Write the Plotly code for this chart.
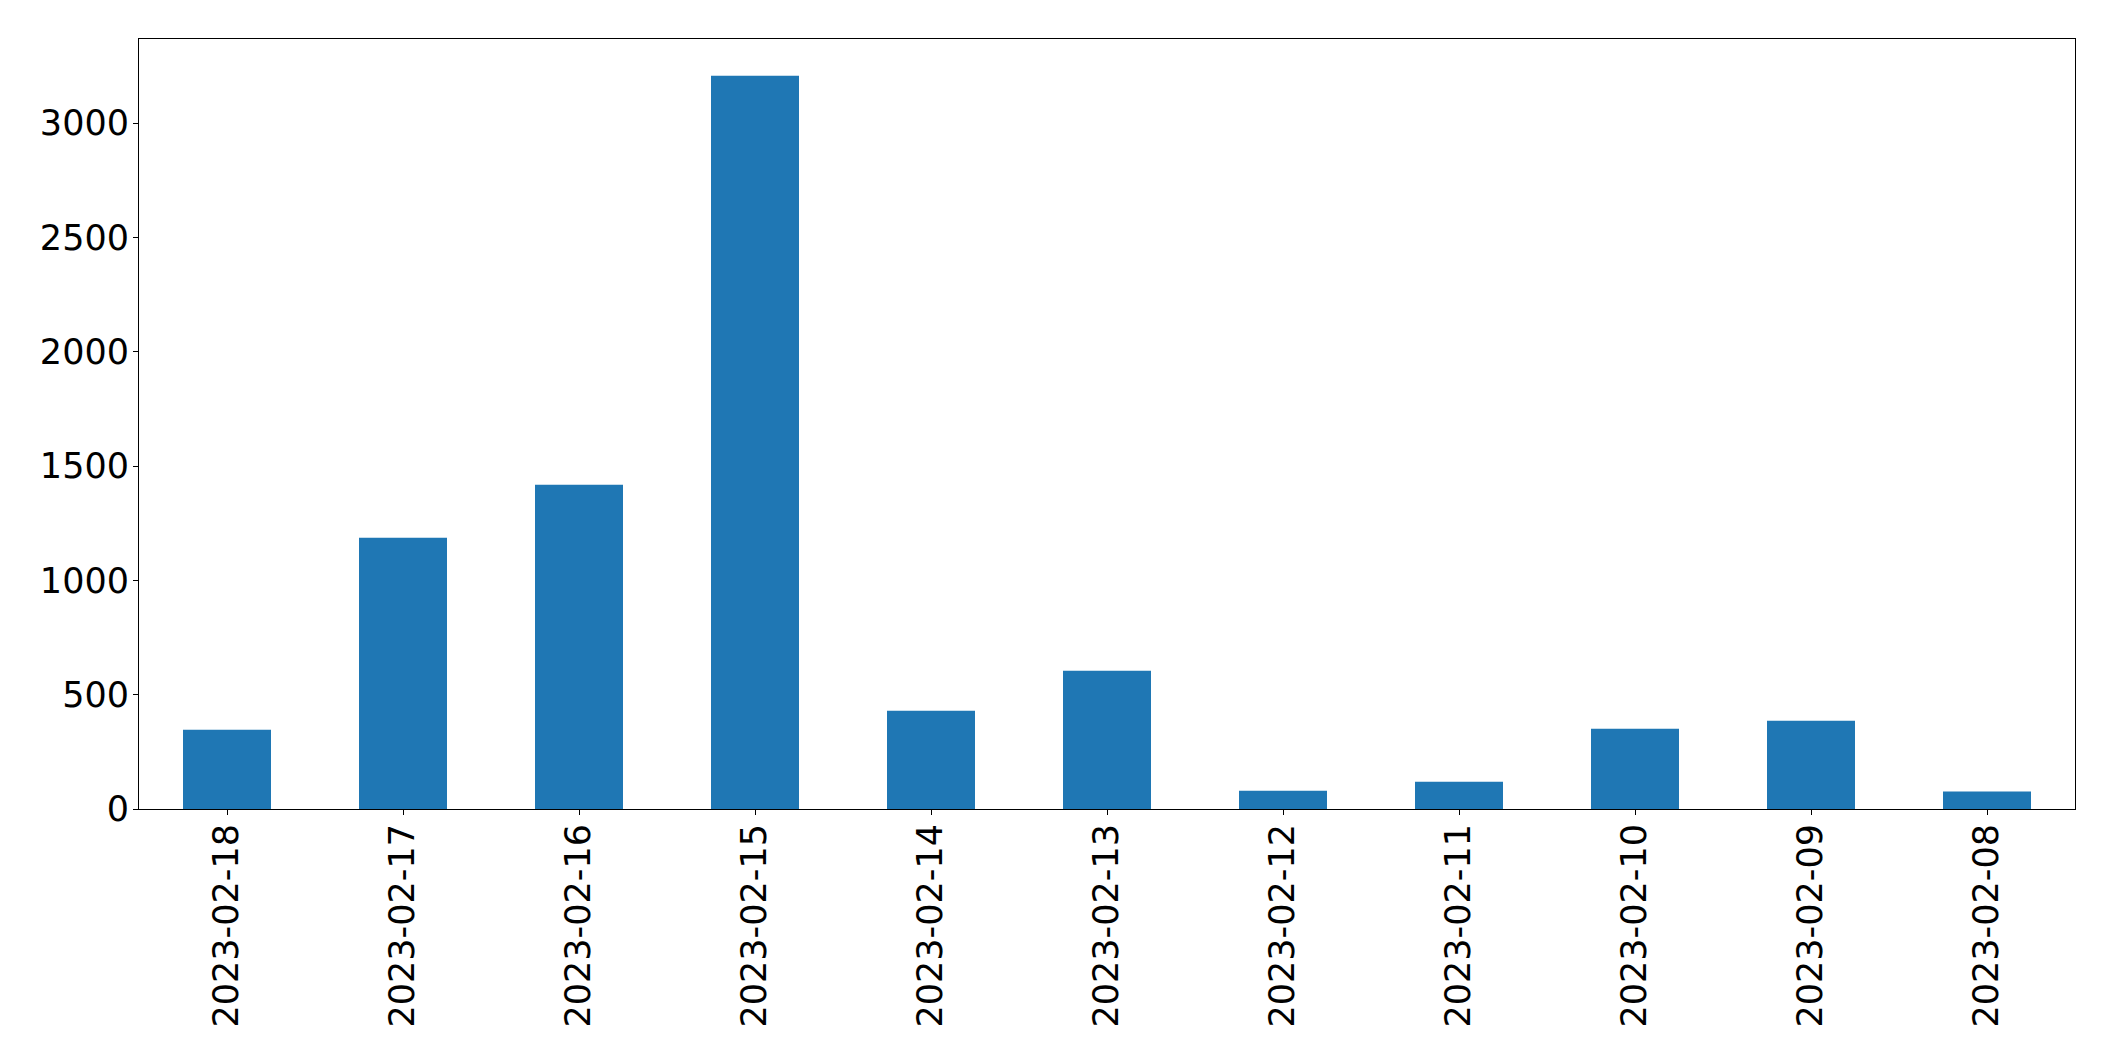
import plotly.graph_objects as go

dates = ["2023-02-18", "2023-02-17", "2023-02-16", "2023-02-15", "2023-02-14",
         "2023-02-13", "2023-02-12", "2023-02-11", "2023-02-10", "2023-02-09",
         "2023-02-08"]
counts = [347, 1186, 1418, 3207, 430, 605, 80, 119, 351, 386, 76]
y_ticks = [0, 500, 1000, 1500, 2000, 2500, 3000]

# page body has an 8px margin, so the figure is shrunk by that amount
W, H = 2107, 1053
fig = go.Figure(go.Bar(x=dates, y=counts, width=0.5, marker=dict(color="#1f77b4", line=dict(width=0))))

axis_common = dict(
    showline=True, linecolor="black", linewidth=1.1, mirror=True,
    showgrid=False, zeroline=False,
    ticks="outside", ticklen=5, tickwidth=1.1, tickcolor="black",
    tickfont=dict(family="DejaVu Sans", size=35, color="black"),
)

fig.update_layout(
    width=W, height=H,
    margin=dict(l=131, r=40, t=31, b=252, autoexpand=False),
    paper_bgcolor="white", plot_bgcolor="white",
    showlegend=False,
    xaxis=dict(type="category", range=[-0.5, 10.5], tickangle=-90,
               ticklabelstandoff=-5, **axis_common),
    yaxis=dict(range=[0, max(counts) * 1.05], tickmode="array", tickvals=y_ticks,
               ticktext=[str(v) for v in y_ticks], ticklabelstandoff=-3, **axis_common),
)

fig.write_html("out.html")
